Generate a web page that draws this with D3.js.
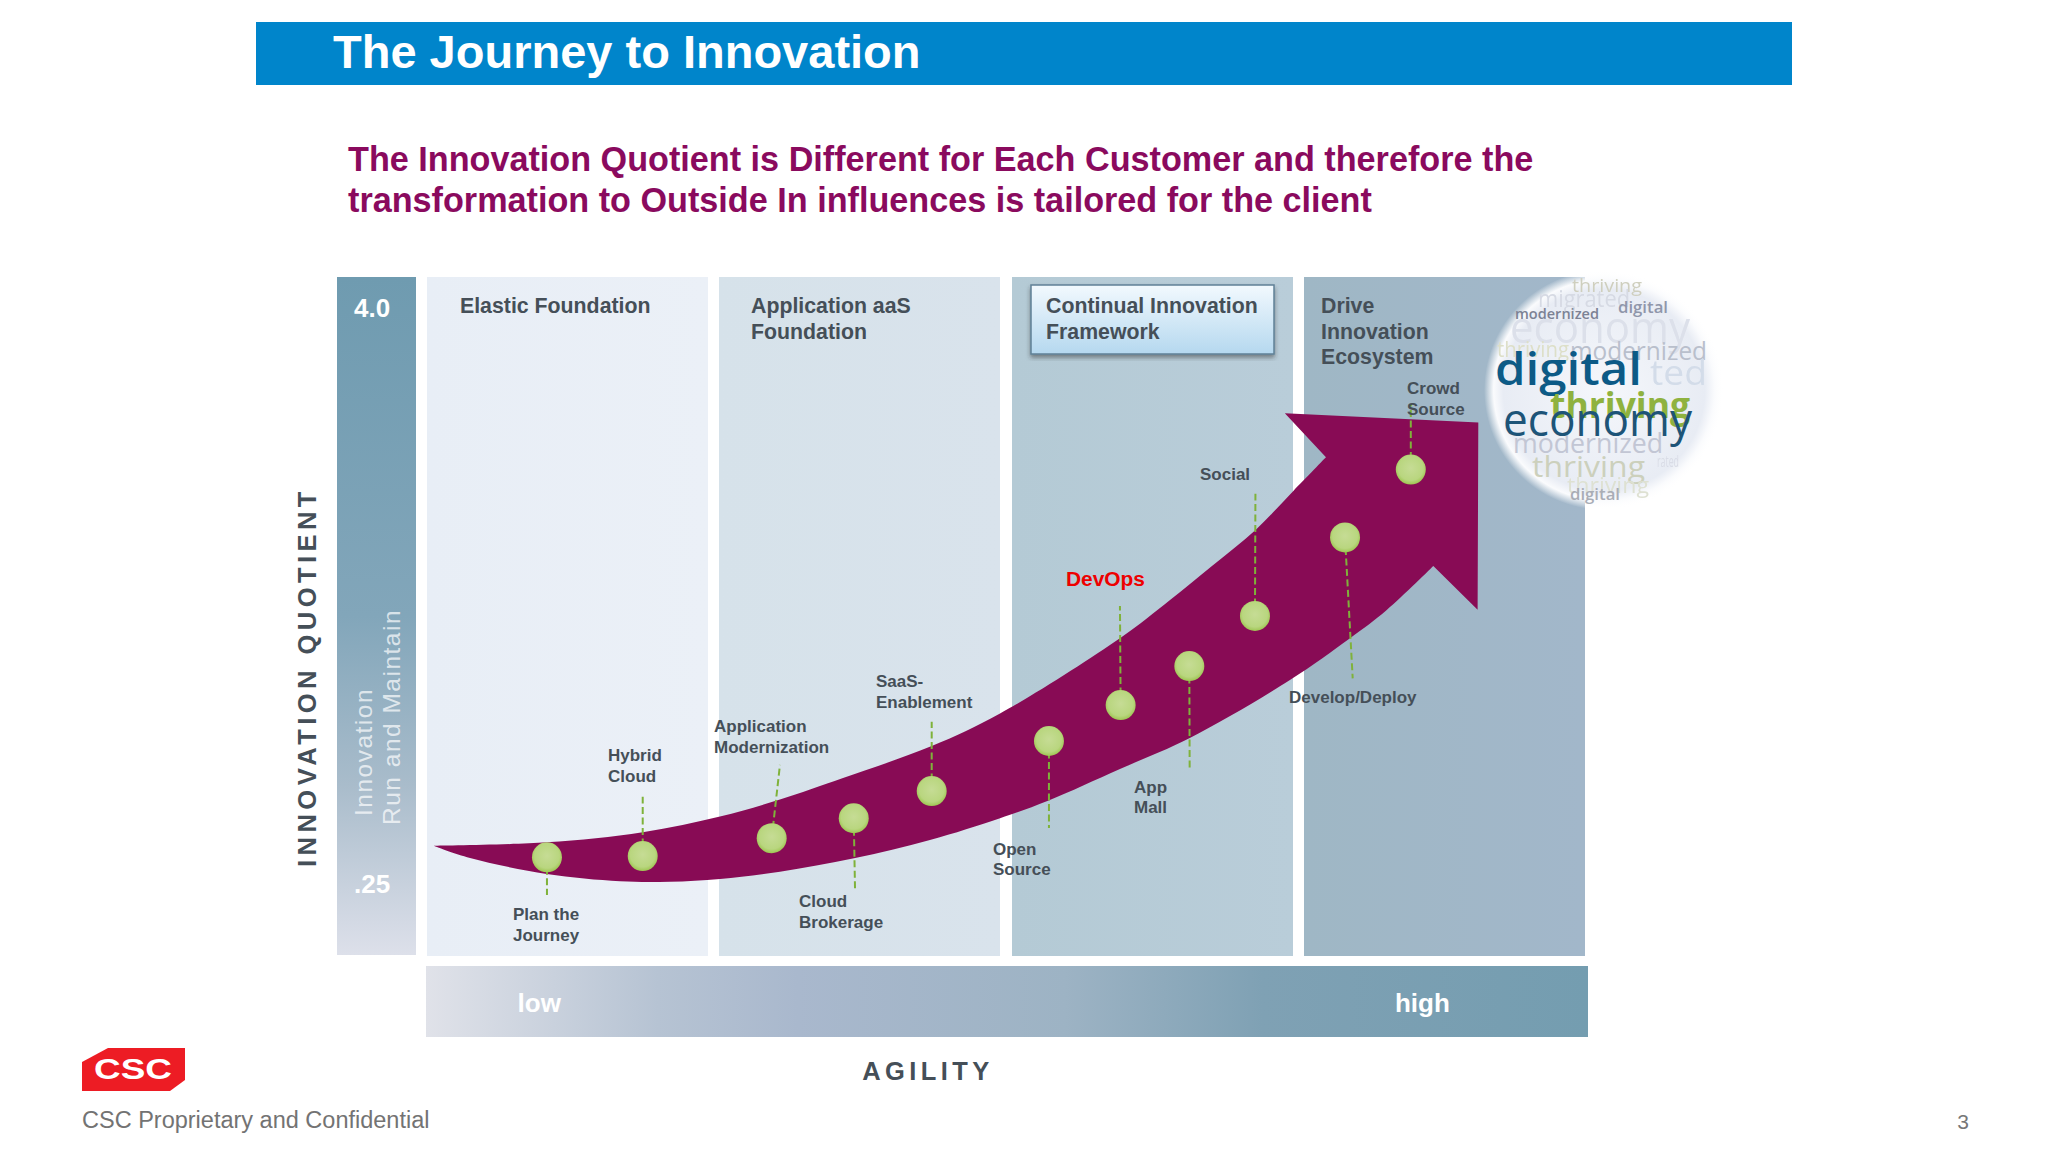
<!DOCTYPE html>
<html>
<head>
<meta charset="utf-8">
<title>The Journey to Innovation</title>
<script src="https://cdn.jsdelivr.net/npm/d3@7"></script>
<style>
  html, body { margin: 0; padding: 0; background: #fff; }
  svg { display: block; }
  text { font-family: "Liberation Sans", Arial, sans-serif; }
</style>
</head>
<body>
<div id="chart"></div>
<script>
// data. agility runs 0-100 along the low/high bar
const milestones = ['Plan the|Journey', 'Hybrid|Cloud', 'Application|Modernization', 'Cloud|Brokerage', 'SaaS-|Enablement',
  'Open|Source', 'DevOps', 'App|Mall', 'Social', 'Develop/Deploy', 'Crowd|Source'];
const agility = [10.41, 18.65, 29.75, 36.81, 43.52, 53.61, 59.78, 65.69, 71.34, 79.09, 84.75];
const quotient = [0.424, 0.432, 0.548, 0.678, 0.855, 1.181, 1.415, 1.669, 1.995, 2.506, 2.948];
const leadAgility = [10.41, 18.65, 30.46, 36.92, 43.52, 53.61, 59.72, 65.72, 71.38, 79.75, 84.75];
const leadQuotient = [0.178, 0.818, 1.025, 0.222, 1.307, 0.615, 2.06, 0.99, 2.791, 1.589, 3.377];

const upperAgility = [0.63, 10.39, 18.65, 25.30, 30.46, 35.89, 43.52, 49.40, 59.72, 64.03, 67.64, 71.39, 74.64, 77.45];
const upperQuotient = [0.499, 0.521, 0.587, 0.689, 0.800, 0.940, 1.148, 1.360, 1.850, 2.099, 2.320, 2.555, 2.809, 3.028];
const lowerAgility = [0.63, 3.79, 10.39, 16.70, 21.0, 25.30, 30.46, 36.83, 43.37, 49.40, 53.53, 59.72, 65.69, 74.35, 79.52, 82.68, 86.69];
const lowerQuotient = [0.499, 0.419, 0.315, 0.268, 0.265, 0.283, 0.330, 0.417, 0.536, 0.678, 0.792, 0.999, 1.199, 1.578, 1.850, 2.034, 2.320];
const headAgility = [73.91, 90.56, 90.50];
const headQuotient = [3.315, 3.255, 2.036];

const bandNames = ['Elastic Foundation', 'Application aaS|Foundation', 'Continual Innovation|Framework', 'Drive|Innovation|Ecosystem'];
const quotientTicks = [4.0, 0.25];
const quotientTickLabels = ['4.0', '.25'];
const agilityTicks = [9.7, 85.7];
const agilityTickLabels = ['low', 'high'];
const cloudWords = ['thriving', 'migrated', 'digital', 'modernized', 'economy', 'thriving', 'modernized', 'ted', 'digital',
  'thriving', 'economy', 'modernized', 'rated', 'thriving', 'thriving', 'digital'];

// layout
const width = 2048;
const height = 1152;
const x = d3.scaleLinear().domain([0, 100]).range([426, 1588]);
const y = d3.scaleLinear().domain([0.25, 4]).range([884, 308]);

const bandX = [427, 719, 1012, 1304];
const bandW = 281;
const bandTop = 277;
const bandBottom = 956;
const bandHeadX = [460, 751, 1046, 1321];
const bandFill = ['url(#band0)', 'url(#band1)', 'url(#band2)', 'url(#band3)'];

// [x, first baseline, line step]
const labelPos = [[513, 920, 21], [608, 761, 21], [714, 732, 21], [799, 907, 21], [876, 687, 21], [993, 855, 20],
  [1066, 586, 0], [1134, 793, 20], [1200, 480, 0], [1289, 703, 0], [1407, 394, 21]];
// [x, baseline, size, width, fill, weight, blur]
const cloudPos = [
  [1572, 292, 19, 70, '#cfcfbe', 400, 1],
  [1538, 307, 23, 92, '#d6dae4', 400, 1],
  [1618, 313, 16, 50, '#8f96aa', 600, 0],
  [1515, 319, 15, 84, '#7c8294', 600, 0],
  [1510, 343, 44, 180, '#dce0ea', 400, 1],
  [1497, 357, 21, 72, '#dddfc8', 400, 1],
  [1570, 360, 25, 137, '#b9bfcc', 400, 0],
  [1650, 385, 34, 57, '#d3dce9', 400, 1],
  [1495, 385, 45, 147, '#0c5a86', 600, 0],
  [1550, 418, 36, 140, '#8fb23f', 700, 0],
  [1503, 436, 46, 189, '#1d5478', 400, 0],
  [1513, 453, 27, 150, '#c2c6d4', 400, 0],
  [1657, 467, 16, 22, '#d9dce6', 400, 1],
  [1532, 477, 30, 113, '#ccd0bc', 400, 0],
  [1567, 493, 22, 82, '#dee1d2', 400, 1],
  [1570, 500, 16, 50, '#a9adb6', 600, 0]
];
// words in the order they overlap in the picture
const cloudOrder = [0, 1, 4, 5, 6, 7, 2, 3, 11, 12, 13, 14, 15, 8, 9, 10];

const svg = d3.select('#chart').append('svg').attr('width', width).attr('height', height);
const defs = svg.append('defs');

function linearGradient(id, stops, vertical) {
  const g = defs.append('linearGradient').attr('id', id)
    .attr('x1', 0).attr('y1', 0).attr('x2', vertical ? 0 : 1).attr('y2', vertical ? 1 : 0);
  stops.forEach(s => g.append('stop').attr('offset', s[0]).attr('stop-color', s[1]));
}
linearGradient('quotientBar', [[0, '#6f9bb0'], [0.5, '#82a6ba'], [0.75, '#a9bccb'], [1, '#dde0ea']], true);
linearGradient('agilityBar', [[0, '#e0e2e9'], [0.2, '#b6c3d3'], [0.32, '#a9b8cd'], [0.55, '#9db3c4'], [0.72, '#7fa1b4'], [1, '#749db0']], false);
linearGradient('band0', [[0, '#e8eef6'], [1, '#ebf0f7']], false);
linearGradient('band1', [[0, '#d6e2ea'], [1, '#d9e3ec']], false);
linearGradient('band2', [[0, '#b4cad5'], [1, '#b9cdd9']], false);
linearGradient('band3', [[0, '#9fb7c5'], [1, '#a2b7ca']], false);
linearGradient('framework', [[0, '#f2f9fe'], [1, '#b5d8ef']], true);

const dot = defs.append('radialGradient').attr('id', 'dot').attr('cx', 0.5).attr('cy', 0.45).attr('r', 0.55);
dot.append('stop').attr('offset', 0).attr('stop-color', '#c6dc95');
dot.append('stop').attr('offset', 0.75).attr('stop-color', '#b9d67f');
dot.append('stop').attr('offset', 1).attr('stop-color', '#9ec552');

const lens = defs.append('radialGradient').attr('id', 'lens');
lens.append('stop').attr('offset', 0).attr('stop-color', '#f5f7fb');
lens.append('stop').attr('offset', 0.84).attr('stop-color', '#e8ecf4');
lens.append('stop').attr('offset', 0.92).attr('stop-color', '#fafbfd');
lens.append('stop').attr('offset', 1).attr('stop-color', '#ffffff').attr('stop-opacity', 0);

defs.append('filter').attr('id', 'soft').append('feGaussianBlur').attr('stdDeviation', 0.7);
const shadow = defs.append('filter').attr('id', 'boxShadow');
shadow.append('feDropShadow').attr('dx', 0).attr('dy', 3).attr('stdDeviation', 2).attr('flood-color', '#333').attr('flood-opacity', 0.5);

// title bar
svg.append('rect').attr('x', 256).attr('y', 22).attr('width', 1536).attr('height', 63).attr('fill', '#0085cb');
svg.append('text').attr('x', 333).attr('y', 68).attr('font-size', 47).attr('font-weight', 700).attr('fill', '#fff')
  .text('The Journey to Innovation');

const subtitle = ['The Innovation Quotient is Different for Each Customer and therefore the',
  'transformation to Outside In influences is tailored for the client'];
svg.selectAll('.subtitle').data(subtitle).enter().append('text')
  .attr('class', 'subtitle')
  .attr('x', 348).attr('y', (d, i) => 170.5 + i * 41)
  .attr('font-size', 34.2).attr('font-weight', 700).attr('fill', '#8a0a5e')
  .text(d => d);

// columns
svg.selectAll('.band').data(bandNames).enter().append('rect')
  .attr('class', 'band')
  .attr('x', (d, i) => bandX[i]).attr('y', bandTop)
  .attr('width', bandW).attr('height', bandBottom - bandTop)
  .attr('fill', (d, i) => bandFill[i]);

// quotient and agility bars with their axes
svg.append('rect').attr('x', 337).attr('y', 277).attr('width', 79).attr('height', 678).attr('fill', 'url(#quotientBar)');
svg.append('rect').attr('x', 426).attr('y', 966).attr('width', 1162).attr('height', 71).attr('fill', 'url(#agilityBar)');

const yAxis = svg.append('g').attr('transform', 'translate(354,0)')
  .call(d3.axisRight(y).tickValues(quotientTicks).tickSize(0).tickPadding(0)
    .tickFormat((d, i) => quotientTickLabels[i]));
const xAxis = svg.append('g').attr('transform', 'translate(0,1004)')
  .call(d3.axisBottom(x).tickValues(agilityTicks).tickSize(0).tickPadding(0)
    .tickFormat((d, i) => agilityTickLabels[i]));
[yAxis, xAxis].forEach(a => {
  a.select('.domain').remove();
  a.selectAll('text').attr('font-family', '"Liberation Sans", Arial, sans-serif')
    .attr('font-size', 26).attr('font-weight', 700).attr('fill', '#fff').attr('dy', '0.32em');
});

// axis titles
svg.append('text').attr('transform', 'translate(316,677) rotate(-90)').attr('text-anchor', 'middle')
  .attr('font-size', 25.6).attr('font-weight', 700).attr('letter-spacing', 4.4).attr('fill', '#454f58')
  .text('INNOVATION QUOTIENT');
svg.append('text').attr('x', 928).attr('y', 1080).attr('text-anchor', 'middle')
  .attr('font-size', 25.5).attr('font-weight', 700).attr('letter-spacing', 4.4).attr('fill', '#454f58')
  .text('AGILITY');
svg.append('text').attr('transform', 'translate(372,816) rotate(-90)')
  .attr('font-size', 24.5).attr('letter-spacing', 1.5).attr('fill', '#fff').attr('fill-opacity', 0.7)
  .text('Innovation');
svg.append('text').attr('transform', 'translate(400,825) rotate(-90)')
  .attr('font-size', 24.5).attr('letter-spacing', 1.5).attr('fill', '#fff').attr('fill-opacity', 0.7)
  .text('Run and Maintain');

// word cloud lens
svg.append('circle').attr('cx', 1604).attr('cy', 390).attr('r', 120).attr('fill', 'url(#lens)');
cloudOrder.forEach(k => {
  const p = cloudPos[k];
  svg.append('text')
    .attr('x', p[0]).attr('y', p[1])
    .attr('font-size', p[2]).attr('font-weight', p[5]).attr('fill', p[4])
    .attr('textLength', p[3]).attr('lengthAdjust', 'spacingAndGlyphs')
    .attr('filter', p[6] ? 'url(#soft)' : null)
    .style('font-family', '"Open Sans", sans-serif')
    .text(cloudWords[k]);
});

// framework box sits behind its heading
svg.append('rect').attr('x', 1031).attr('y', 285).attr('width', 243).attr('height', 69)
  .attr('fill', 'url(#framework)').attr('stroke', '#5f8096').attr('stroke-width', 1.5).attr('filter', 'url(#boxShadow)');

bandNames.forEach((name, i) => {
  const t = svg.append('text').attr('font-size', 21.3).attr('font-weight', 700).attr('fill', '#454f58');
  name.split('|').forEach((line, j) => {
    t.append('tspan').attr('x', bandHeadX[i]).attr('y', 313 + j * 25.5).text(line);
  });
});

// arrow
const edge = d3.line().x(d => x(d[0])).y(d => y(d[1])).curve(d3.curveCatmullRom.alpha(0.5));
const upperEdge = edge(d3.zip(upperAgility, upperQuotient));
const lowerEdge = edge(d3.zip(lowerAgility, lowerQuotient).reverse());
const headPath = d3.zip(headAgility, headQuotient).map(d => `L${x(d[0])},${y(d[1])}`).join('');
svg.append('path')
  .attr('d', upperEdge + headPath + 'L' + lowerEdge.slice(1) + 'Z')
  .attr('fill', '#880b55');

// milestones
svg.selectAll('.lead').data(milestones).enter().append('line')
  .attr('class', 'lead')
  .attr('x1', (d, i) => x(agility[i])).attr('y1', (d, i) => y(quotient[i]))
  .attr('x2', (d, i) => x(leadAgility[i])).attr('y2', (d, i) => y(leadQuotient[i]))
  .attr('stroke', '#7fb23a').attr('stroke-width', 2).attr('stroke-dasharray', '7,3.5');

svg.selectAll('.dot').data(milestones).enter().append('circle')
  .attr('class', 'dot')
  .attr('cx', (d, i) => x(agility[i])).attr('cy', (d, i) => y(quotient[i]))
  .attr('r', 15).attr('fill', 'url(#dot)');

milestones.forEach((name, i) => {
  const red = name === 'DevOps';
  const t = svg.append('text').attr('font-weight', 700)
    .attr('font-size', red ? 20.9 : 17).attr('fill', red ? '#ee0000' : '#454f58');
  name.split('|').forEach((line, j) => {
    t.append('tspan').attr('x', labelPos[i][0]).attr('y', labelPos[i][1] + j * labelPos[i][2]).text(line);
  });
});

// footer
svg.append('path').attr('d', 'M82,1062L108,1048H185V1080L170,1091H82Z').attr('fill', '#ed1c24');
svg.append('text').attr('x', 94).attr('y', 1079).attr('font-size', 29).attr('font-weight', 700).attr('fill', '#fff')
  .attr('textLength', 78).attr('lengthAdjust', 'spacingAndGlyphs').text('CSC');
svg.append('text').attr('x', 82).attr('y', 1128).attr('font-size', 23.5).attr('fill', '#737373')
  .text('CSC Proprietary and Confidential');
svg.append('text').attr('x', 1963).attr('y', 1129).attr('text-anchor', 'middle').attr('font-size', 21).attr('fill', '#777')
  .text('3');
</script>
</body>
</html>
